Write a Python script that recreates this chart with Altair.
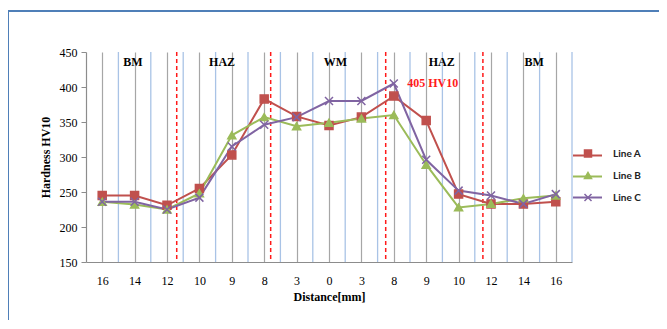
import altair as alt
import pandas as pd

distance_labels = ["16", "14", "12", "10", "9", "8", "3", "0", "3", "8", "9", "10", "12", "14", "16"]
line_a = [245, 245, 231, 255, 303, 383, 358, 345, 357, 387, 352, 247, 233, 233, 236]
line_b = [236, 232, 225, 248, 331, 357, 344, 349, 355, 360, 289, 228, 233, 241, 245]
line_c = [236, 236, 225, 242, 315, 346, 357, 380, 380, 405, 296, 252, 245, 233, 247]
series_names = ["Line A", "Line B", "Line C"]
series_colors = ["#c0504d", "#9bbb59", "#8064a2"]

band_edges = [i + 0.5 for i in range(15)]
zone_bounds = [2.3, 5.2, 8.75, 11.75]
zone_labels = ["BM", "HAZ", "WM", "HAZ", "BM"]
zone_pos = [0.95, 3.7, 7.2, 10.48, 13.33]
zone_val = [436, 436, 436, 436, 436]
peak_label = ["405 HV10"]
peak_pos = [10.2]
peak_val = [406]

rows = []
for name, vals in zip(series_names, [line_a, line_b, line_c]):
    for i, v in enumerate(vals):
        rows.append({"pos": i, "value": v, "series": name})
df = pd.DataFrame(rows)

label_expr = "[" + ",".join("'%s'" % s for s in distance_labels) + "][datum.value]"
serif = "Liberation Serif"

xenc = alt.X(
    "pos:Q",
    scale=alt.Scale(domain=[-0.5, 14.5], nice=False, zero=False),
    axis=alt.Axis(
        values=list(range(15)), labelExpr=label_expr, grid=True,
        gridColor="#a6a6a6", gridWidth=1.2, ticks=False, domainColor="#8c8c8c",
        domainWidth=1.2, labelFont=serif, labelFontSize=12, labelColor="black",
        labelPadding=13, labelAngle=0, labelOverlap=False,
        title="Distance[mm]", titleFont=serif, titleFontSize=12,
        titleFontWeight="bold", titleColor="black", titlePadding=5,
    ),
)
yenc = alt.Y(
    "value:Q",
    scale=alt.Scale(domain=[150, 450], nice=False, zero=False),
    axis=alt.Axis(
        values=[150, 200, 250, 300, 350, 400, 450], grid=False, tickSize=5,
        tickColor="#8c8c8c", domainColor="#8c8c8c", domainWidth=1.2,
        labelFont=serif, labelFontSize=12, labelColor="black", labelPadding=4,
        title="Hardness HV10", titleFont=serif, titleFontSize=12,
        titleFontWeight="bold", titleColor="black", titlePadding=7,
    ),
)

blue_df = pd.DataFrame({"pos": band_edges})
red_df = pd.DataFrame({"pos": zone_bounds})
zone_df = pd.DataFrame({"pos": zone_pos, "value": zone_val, "label": zone_labels})
peak_df = pd.DataFrame({"pos": peak_pos, "value": peak_val, "label": peak_label})
one = pd.DataFrame({"k": [0]})

blue = alt.Chart(blue_df).mark_rule(color="#a9c3e6", strokeWidth=1.3).encode(x=xenc)
red = alt.Chart(red_df).mark_rule(color="#ff1a1a", strokeWidth=1.5, strokeDash=[4, 3]).encode(x=xenc)

leg_common = dict(orient="none", title=None, padding=0, labelFont="Lato",
                  labelFontWeight="bold", labelFontSize=10, labelColor="#222222")

lines = alt.Chart(df).transform_calculate(lk="datum.series").mark_line(strokeWidth=2).encode(
    x=xenc, y=yenc,
    color=alt.Color("lk:N", scale=alt.Scale(range=series_colors),
                    legend=alt.Legend(legendX=486, legendY=88, symbolType="stroke",
                                      symbolSize=841, symbolStrokeWidth=2,
                                      labelExpr="''", rowPadding=-1.5, **leg_common)),
    detail="series:N",
)

mleg = alt.Legend(legendX=497, legendY=96.5, symbolSize=49, symbolStrokeWidth=1.5,
                  labelOffset=20, rowPadding=8, **leg_common)
points = alt.Chart(df).mark_point(filled=True, opacity=1, size=64, strokeWidth=1.5).encode(
    x=xenc, y=yenc,
    fill=alt.Fill("series:N", scale=alt.Scale(range=series_colors), legend=mleg),
    stroke=alt.Stroke("series:N", scale=alt.Scale(range=series_colors), legend=mleg),
    shape=alt.Shape("series:N", scale=alt.Scale(range=["square", "triangle-up", "M-1,-1L1,1M-1,1L1,-1"]), legend=mleg),
)

zones = alt.Chart(zone_df).mark_text(font=serif, fontSize=12, fontWeight="bold", color="black").encode(
    x=xenc, y=yenc, text="label:N")
peak = alt.Chart(peak_df).mark_text(font=serif, fontSize=12, fontWeight="bold", color="#ff1a1a").encode(
    x=xenc, y=yenc, text="label:N")

frame_top = alt.Chart(one).mark_rule(color="#4f7fb8", strokeWidth=2).encode(
    x=alt.value(-78), x2=alt.value(573), y=alt.value(-41))
frame_left = alt.Chart(one).mark_rule(color="#4f7fb8", strokeWidth=2).encode(
    x=alt.value(-78), y=alt.value(-41), y2=alt.value(268))

chart = alt.layer(blue, red, lines, points, zones, peak, frame_top, frame_left).properties(
    width=486, height=210,
    autosize=alt.AutoSizeParams(type="none"),
    padding={"left": 78, "top": 44, "right": 87, "bottom": 58},
    background="white",
).configure_view(stroke=None)

chart.save("out.html", embed_options={"renderer": "svg", "actions": False})
